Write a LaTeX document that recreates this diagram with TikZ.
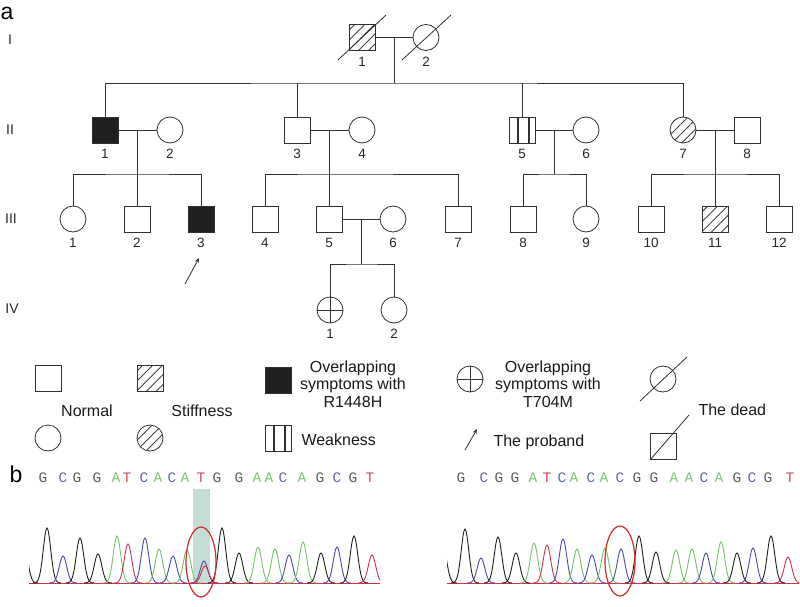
\documentclass[tikz,border=0pt]{standalone}
\usepackage{fontspec}
\setmainfont{Liberation Sans}
\newfontfamily\seqfont{Liberation Mono}
\usepackage{tikz}
\usetikzlibrary{calc}
\usetikzlibrary{patterns.meta}
\usetikzlibrary{arrows.meta}

\definecolor{pline}{HTML}{303030}
\definecolor{trk}{HTML}{1E1E1E}
\definecolor{trb}{HTML}{4848A8}
\definecolor{trg}{HTML}{78C06C}
\definecolor{trr}{HTML}{D2304A}
\definecolor{sqG}{HTML}{5E5E5E}
\definecolor{sqC}{HTML}{6464A8}
\definecolor{sqA}{HTML}{7CC474}
\definecolor{sqT}{HTML}{D04660}
\definecolor{hilite}{HTML}{C6DDD6}
\definecolor{ring}{HTML}{D42A2A}

\begin{document}
\begin{tikzpicture}[x=1pt,y=-1pt,
    ind/.style={draw=pline,line width=0.8pt,minimum size=26pt,inner sep=0pt},
    male/.style={ind,rectangle},
    female/.style={ind,circle},
    affected/.style={fill=black!88},
    stiff/.style={pattern={Lines[angle=45,distance=7pt,line width=0.9pt]},pattern color=black!75},
    weak/.style={path picture={
        \draw[line width=1.3pt,pline] ([xshift=9pt]path picture bounding box.south west) -- ([xshift=9pt]path picture bounding box.north west);
        \draw[line width=1.3pt,pline] ([xshift=20pt]path picture bounding box.south west) -- ([xshift=20pt]path picture bounding box.north west);}},
    mutT/.style={path picture={
        \draw[pline,line width=0.8pt] (path picture bounding box.north) -- (path picture bounding box.south);
        \draw[pline,line width=0.8pt] (path picture bounding box.west) -- (path picture bounding box.east);}},
    famline/.style={draw=pline,line width=0.8pt},
    every label/.style={font=\fontsize{13.5}{15}\selectfont,text=black!85},
    label distance=2.5pt,
    gen/.style={font=\fontsize{14}{16}\selectfont,text=black!85},
    legtext/.style={font=\fontsize{16}{17.5}\selectfont,align=center,text=black!90},
    seq/.style={font=\seqfont\fontsize{14.5}{16}\selectfont,inner sep=0pt}]

\useasboundingbox (0,0) rectangle (800,607);

% panel letters and generations
\node[font=\fontsize{23}{25}\selectfont] (pa) at (7,13) {a};
\node[font=\fontsize{23}{25}\selectfont] (pb) at (16,474) {b};
\node[gen] (gI) at (10,40) {I};
\node[gen] (gII) at (10,130) {II};
\node[gen] (gIII) at (11,219) {III};
\node[gen] (gIV) at (12,309) {IV};

% generation I
\node[male,stiff,label=below:1] (I1) at (362,37.5) {};
\node[female,label=below:2] (I2) at (426,37.5) {};
\draw[famline] ([shift={(-24,22.5)}]I1.center) -- ([shift={(24,-22.5)}]I1.center);
\draw[famline] ([shift={(-24,22.5)}]I2.center) -- ([shift={(25,-22.5)}]I2.center);

% generation II
\node[male,affected,label=below:1] (II1) at (105,130) {};
\node[female,label=below:2] (II2) at (170,130) {};
\node[male,label=below:3] (II3) at (297,130) {};
\node[female,label=below:4] (II4) at (362,130) {};
\node[male,weak,label=below:5] (II5) at (522,130) {};
\node[female,label=below:6] (II6) at (586,130) {};
\node[female,stiff,label=below:7] (II7) at (683,130) {};
\node[male,label=below:8] (II8) at (747,130) {};

% generation III
\node[female,label=below:1] (III1) at (73,219) {};
\node[male,label=below:2] (III2) at (137,219) {};
\node[male,affected,label=below:3] (III3) at (201,219) {};
\node[male,label=below:4] (III4) at (265,219) {};
\node[male,label=below:5] (III5) at (329,219) {};
\node[female,label=below:6] (III6) at (393,219) {};
\node[male,label=below:7] (III7) at (458,219) {};
\node[male,label=below:8] (III8) at (523,219) {};
\node[female,label=below:9] (III9) at (586,219) {};
\node[male,label=below:10] (III10) at (651,219) {};
\node[male,stiff,label=below:11] (III11) at (715,219) {};
\node[male,label=below:12] (III12) at (779,219) {};

% generation IV
\node[female,mutT,label=below:1] (IV1) at (330,310) {};
\node[female,label=below:2] (IV2) at (394,310) {};

% couples
\draw[famline] (I1) -- (I2);
\draw[famline] (II1) -- (II2);
\draw[famline] (II3) -- (II4);
\draw[famline] (II5) -- (II6);
\draw[famline] (II7) -- (II8);
\draw[famline] (III5) -- (III6);
\coordinate (mI) at ($(I1)!0.5!(I2)$);
\coordinate (mA) at (137.5,130);
\coordinate (mB) at (329.5,130);
\coordinate (mC) at (554,130);
\coordinate (mD) at (715,130);
\coordinate (mE) at (361,219);

% sibships
\coordinate (sI) at (394,83);
\draw[famline] (mI) -- (sI);
\draw[famline] (II1.north) |- (sI) -| (II7.north);
\draw[famline] (II3.north) -- (II3.north |- sI);
\draw[famline] (II5.north) -- (II5.north |- sI);

\coordinate (sA) at (137.5,174);
\draw[famline] (mA) -- (sA);
\draw[famline] (III1.north) |- (sA) -| (III3.north);
\draw[famline] (III2.north) -- (III2.north |- sA);

\coordinate (sB) at (329.5,174);
\draw[famline] (mB) -- (sB);
\draw[famline] (III4.north) |- (sB) -| (III7.north);
\draw[famline] (III5.north) -- (III5.north |- sB);

\coordinate (sC) at (554,174);
\draw[famline] (mC) -- (sC);
\draw[famline] (III8.north) |- (sC) -| (III9.north);

\coordinate (sD) at (715,174);
\draw[famline] (mD) -- (sD);
\draw[famline] (III10.north) |- (sD) -| (III12.north);
\draw[famline] (III11.north) -- (III11.north |- sD);

\coordinate (sE) at (361,264);
\draw[famline] (mE) -- (sE);
\draw[famline] (IV1.north) |- (sE) -| (IV2.north);

% proband
\coordinate (pbtail) at (185,284);
\coordinate (pbhead) at (199,258);
\draw[famline,-{Stealth[length=5pt,width=4pt]}] (pbtail) -- (pbhead);

% legend
\node[male] (lgnormsq) at (48,378) {};
\node[male,stiff] (lgstiffsq) at (150,378) {};
\node[male,affected] (lgr1448) at (278,380) {};
\node[female] (lgnormci) at (48,438) {};
\node[female,stiff] (lgstiffci) at (150,438) {};
\node[male,weak] (lgweak) at (278,438) {};
\node[female,mutT] (lgt704) at (470,379) {};
\node[female] (lgdeadci) at (663,379) {};
\node[male] (lgdeadsq) at (663,446) {};
\draw[famline] ([shift={(-23,22)}]lgdeadci.center) -- ([shift={(24,-22)}]lgdeadci.center);
\draw[famline] ([shift={(-13,14)}]lgdeadsq.center) -- ([shift={(26,-31)}]lgdeadsq.center);
\coordinate (lgtail) at (465,450);
\coordinate (lghead) at (477,429);
\draw[famline,-{Stealth[length=5pt,width=4pt]}] (lgtail) -- (lghead);

\node[legtext] (txnormal) at (87,411) {Normal};
\node[legtext] (txstiff) at (202,411) {Stiffness};
\node[legtext] (txr1448) at (353,384) {Overlapping\\symptoms with\\R1448H};
\node[legtext] (txt704) at (548,384) {Overlapping\\symptoms with\\T704M};
\node[legtext,anchor=west] (txweak) at (298,440) {Weakness};
\node[legtext,anchor=west] (txproband) at (490,442) {The proband};
\node[legtext,anchor=west] (txdead) at (695,410) {The dead};

% sequences
\foreach \lx/\lt/\lc [count=\i] in {43/G/sqG,63/C/sqC,77/G/sqG,97/G/sqG,116/A/sqA,127/T/sqT,144/C/sqC,158/A/sqA,172/C/sqC,185/A/sqA,201/T/sqT,217/G/sqG,239/G/sqG,257/A/sqA,269/A/sqA,283/C/sqC,302/A/sqA,320/G/sqG,337/C/sqC,353/G/sqG,370/T/sqT}
    \node[seq,text=\lc] (sa\i) at (\lx,478) {\lt};
\foreach \lx/\lt/\lc [count=\i] in {461/G/sqG,484/C/sqC,499/G/sqG,515/G/sqG,533/A/sqA,547/T/sqT,562/C/sqC,574/A/sqA,591/C/sqC,604/A/sqA,620/C/sqC,637/G/sqG,654/G/sqG,674/A/sqA,689/A/sqA,704/C/sqC,719/A/sqA,737/G/sqG,752/C/sqC,768/G/sqG,790/T/sqT}
    \node[seq,text=\lc] (sb\i) at (\lx,478) {\lt};

% chromatograms
\fill[hilite] (193,489) rectangle (210,583);
\begin{scope}
\clip (29,470) rectangle (380,590);
\draw[trr,line width=0.9pt] (29,583) -- (380,583);
\foreach \px/\py/\pc [evaluate=\px as \pa using \px-14, evaluate=\px as \pb using \px+14] in {24/545/trk,47/528/trk,63/556/trb,80/538/trk,98/554/trk,117/536/trg,128/544/trr,145/538/trb,159/549/trg,173/556/trb,187/550/trg,204/561/trb,205/566/trr,222/528/trk,239/553/trk,258/547/trg,275/549/trg,289/555/trb,303/542/trg,321/553/trk,337/547/trb,354/536/trk,372/555/trr}
    \draw[\pc,line width=0.9pt] plot[domain=\pa:\pb,samples=29,smooth] (\x,{583-(583-\py)*exp(-((\x-\px)^2)/28)});
\end{scope}
\begin{scope}
\clip (447,470) rectangle (799,590);
\draw[trr,line width=0.9pt] (447,583) -- (799,583);
\foreach \px/\py/\pc [evaluate=\px as \pa using \px-14, evaluate=\px as \pb using \px+14] in {443/547/trk,465/529/trk,481/558/trb,498/537/trk,516/553/trk,534/543/trg,547/545/trr,563/539/trb,577/549/trg,592/555/trb,605/548/trg,621/549/trb,639/536/trk,656/552/trk,676/550/trg,692/549/trg,706/553/trb,721/542/trg,737/553/trk,753/548/trb,771/536/trk,788/557/trr}
    \draw[\pc,line width=0.9pt] plot[domain=\pa:\pb,samples=29,smooth] (\x,{583-(583-\py)*exp(-((\x-\px)^2)/28)});
\end{scope}
\draw[ring,line width=1.2pt] (201,562) ellipse [x radius=15, y radius=35];
\draw[ring,line width=1.2pt] (620,561) ellipse [x radius=15, y radius=35];

\end{tikzpicture}
\end{document}
